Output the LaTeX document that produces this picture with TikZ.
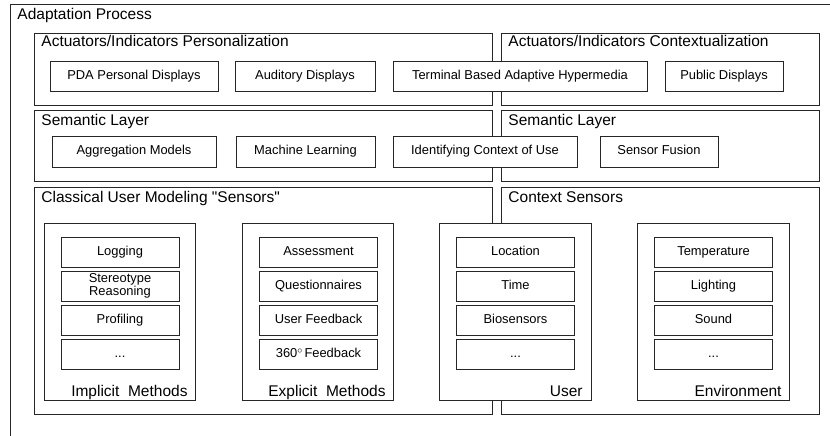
\documentclass[tikz,border=0pt]{standalone}
\usepackage{fontspec}
\setmainfont{Liberation Sans}
\begin{document}
\begin{tikzpicture}[x=1pt,y=-1pt,
  line width=0.9pt,
  box/.style={draw=black!85, fill=white, inner sep=0pt, outer sep=0pt, rectangle},
  panel/.style={box, fill=none},
  labelbox/.style={box, align=center, font=\fontsize{12.9}{13.5}\selectfont},
  itembox/.style={labelbox, text height=9.4pt, text depth=2.6pt},
  heading/.style={anchor=base west, inner sep=0pt, font=\fontsize{15.5}{18}\selectfont},
  grouplabel/.style={anchor=base east, inner sep=0pt, font=\fontsize{15.5}{18}\selectfont}]
\useasboundingbox (0,0) rectangle (830,436);

% outer frame of the whole process (open to the right and below)
\coordinate (frameTR) at (830,4);
\coordinate (frameTL) at (10,4);
\coordinate (frameBL) at (10,436);
\draw[draw=black!85] (frameTR) -- (frameTL) -- (frameBL);
\node[heading] (title) at (17,20) {Adaptation Process};

% layer panels
\node[panel, minimum width=458, minimum height=72] (pers) at (263,69) {};
\node[panel, minimum width=318, minimum height=72] (ctx) at (660,69) {};
\node[panel, minimum width=458, minimum height=71] (semL) at (263,145.5) {};
\node[panel, minimum width=318, minimum height=71] (semR) at (660,145.5) {};
\node[panel, minimum width=458, minimum height=227] (cls) at (263,300.5) {};
\node[panel, minimum width=318, minimum height=227] (cs) at (660,300.5) {};

\node[heading] (persT) at (41,47) {Actuators/Indicators Personalization};
\node[heading] (ctxT) at (508,47) {Actuators/Indicators Contextualization};
\node[heading] (semLT) at (41,125) {Semantic Layer};
\node[heading] (semRT) at (508,125) {Semantic Layer};
\node[heading] (clsT) at (41,202) {Classical User Modeling \textquotedbl Sensors\textquotedbl};
\node[heading] (csT) at (508,202) {Context Sensors};

% actuators / indicators
\node[itembox, minimum width=168, minimum height=30] (pda) at (134,76) {PDA Personal Displays};
\node[itembox, minimum width=140, minimum height=30] (aud) at (305,76) {Auditory Displays};
\node[itembox, minimum width=254, minimum height=30] (tba) at (520,76) {Terminal Based Adaptive Hypermedia};
\node[itembox, minimum width=118, minimum height=30] (pub) at (724,76) {Public Displays};

% semantic layer
\node[itembox, minimum width=164, minimum height=31] (agg) at (134,151.5) {Aggregation Models};
\node[itembox, minimum width=139, minimum height=31] (ml) at (305.5,151.5) {Machine Learning};
\node[itembox, minimum width=184, minimum height=31] (icu) at (485,151.5) {Identifying Context of Use};
\node[itembox, minimum width=118, minimum height=31] (sf) at (659,151.5) {Sensor Fusion};

% sensor groups
\node[box, minimum width=151, minimum height=177] (impl) at (119.5,311.5) {};
\node[box, minimum width=151, minimum height=177] (expl) at (317.5,311.5) {};
\node[box, minimum width=152, minimum height=177] (user) at (515,311.5) {};
\node[box, minimum width=152, minimum height=177] (env) at (713,311.5) {};

\node[grouplabel] (implT) at (188,396) {Implicit\ \ Methods};
\node[grouplabel] (explT) at (386,396) {Explicit\ \ Methods};
\node[grouplabel] (userT) at (583,396) {User};
\node[grouplabel] (envT) at (782,396) {Environment};

% items inside the groups
\tikzset{item/.style={itembox, minimum width=118, minimum height=30}}
\node[item] (i1) at (120,252) {Logging};
\node[labelbox, minimum width=118, minimum height=30] (i2) at (120,286) {Stereotype\\Reasoning};
\node[item] (i3) at (120,320) {Profiling};
\node[item] (i4) at (120,354) {...};

\node[item] (e1) at (318.5,252) {Assessment};
\node[item] (e2) at (318.5,286) {Questionnaires};
\node[item] (e3) at (318.5,320) {User Feedback};
\node[item] (e4) at (318.5,354) {360\raisebox{4.2pt}{\fontsize{10}{10}\selectfont$\circ$}\,Feedback};

\node[item] (u1) at (515.5,252) {Location};
\node[item] (u2) at (515.5,286) {Time};
\node[item] (u3) at (515.5,320) {Biosensors};
\node[item] (u4) at (515.5,354) {...};

\node[item] (n1) at (713.5,252) {Temperature};
\node[item] (n2) at (713.5,286) {Lighting};
\node[item] (n3) at (713.5,320) {Sound};
\node[item] (n4) at (713.5,354) {...};
\end{tikzpicture}
\end{document}
